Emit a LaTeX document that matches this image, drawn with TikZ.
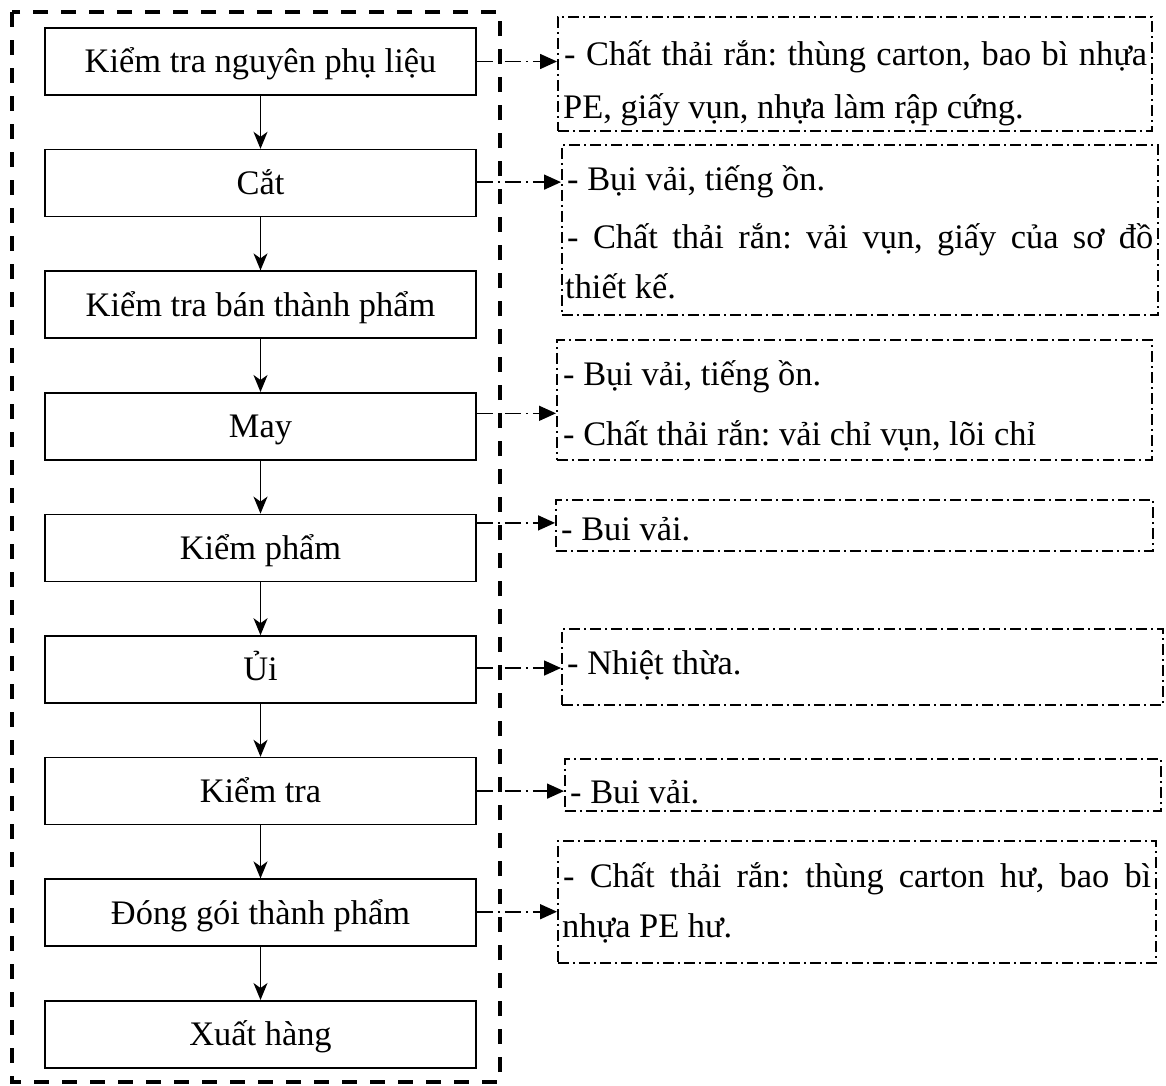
\documentclass[tikz,border=0pt]{standalone}
\usepackage{fontspec}
\setmainfont{Liberation Serif}
\usetikzlibrary{arrows.meta,calc}
\frenchspacing
\begin{document}
\begin{tikzpicture}[x=1pt,y=-1pt,
  font=\fontsize{34.4}{40}\selectfont\frenchspacing,
  stepbox/.style={draw, line width=1.6pt, minimum width=431pt, minimum height=67pt,
    text height=22.8pt, text depth=0pt, inner sep=0pt},
  wastebox/.style={draw, line width=1.5pt, dash pattern=on 11pt off 4pt on 2pt off 4pt,
    inner sep=0pt, anchor=north west},
  wline/.style={anchor=base west, inner sep=0pt},
  flow/.style={line width=1.6pt, -{Stealth[length=17pt,width=14pt,inset=5pt]}},
  conn/.style={line width=1.6pt, dash pattern=on 16pt off 5pt on 2pt off 5pt,
    -{Triangle[length=17pt,width=15pt]}},
  group/.style={draw, line width=3.5pt, dash pattern=on 15pt off 13pt}
]
\useasboundingbox (0,0) rectangle (1166,1085);

% outer dashed group
\draw[group] (12,12) rectangle (500,1082);

% process steps
\node[stepbox] (b1) at (260.5,61.5)  {Kiểm tra nguyên phụ liệu};
\node[stepbox] (b2) at (260.5,183.1) {Cắt};
\node[stepbox] (b3) at (260.5,304.7) {Kiểm tra bán thành phẩm};
\node[stepbox] (b4) at (260.5,426.3) {May};
\node[stepbox] (b5) at (260.5,547.9) {Kiểm phẩm};
\node[stepbox] (b6) at (260.5,669.5) {Ủi};
\node[stepbox] (b7) at (260.5,791.1) {Kiểm tra};
\node[stepbox] (b8) at (260.5,912.7) {Đóng gói thành phẩm};
\node[stepbox] (b9) at (260.5,1034.3) {Xuất hàng};

\foreach \a/\b in {b1/b2,b2/b3,b3/b4,b4/b5,b5/b6,b6/b7,b7/b8,b8/b9}
  \draw[flow] (\a) -- (\b);

% waste boxes
\node[wastebox, minimum width=594pt, minimum height=114pt] (t1) at (557,16) {};
\node[wastebox, minimum width=596pt, minimum height=170pt] (t2) at (561,144) {};
\node[wastebox, minimum width=595pt, minimum height=120pt] (t3) at (556,339) {};
\node[wastebox, minimum width=597pt, minimum height=51pt]  (t4) at (555,499) {};
\node[wastebox, minimum width=601pt, minimum height=76pt]  (t5) at (561,628) {};
\node[wastebox, minimum width=596pt, minimum height=52pt]  (t6) at (564,758) {};
\node[wastebox, minimum width=598pt, minimum height=122pt] (t7) at (557,840) {};

% waste texts
\node[wline] (t1a) at (564,65)  {\makebox[583pt][s]{- Chất thải rắn: thùng carton, bao bì nhựa}};
\node[wline] (t1b) at (563,118) {PE, giấy vụn, nhựa làm rập cứng.};
\node[wline] (t2a) at (567,190) {- Bụi vải, tiếng ồn.};
\node[wline] (t2b) at (567,248) {\makebox[586pt][s]{- Chất thải rắn: vải vụn, giấy của sơ đồ}};
\node[wline] (t2c) at (565,298) {thiết kế.};
\node[wline] (t3a) at (563,385) {- Bụi vải, tiếng ồn.};
\node[wline] (t3b) at (563,445) {- Chất thải rắn: vải chỉ vụn, lõi chỉ};
\node[wline] (t4a) at (561,540) {- Bui vải.};
\node[wline] (t5a) at (567,674) {- Nhiệt thừa.};
\node[wline] (t6a) at (570,803) {- Bui vải.};
\node[wline] (t7a) at (563,887) {\makebox[588pt][s]{- Chất thải rắn: thùng carton hư, bao bì}};
\node[wline] (t7b) at (562,937) {nhựa PE hư.};

% connectors to waste boxes
\draw[conn] (b1.east) coordinate (c1) -- (c1 -| t1.west);
\draw[conn] ($(b2.east)+(0,-1)$) coordinate (c2) -- (c2 -| t2.west);
\draw[conn] ($(b4.east)+(0,-13)$) coordinate (c4) -- (c4 -| t3.west);
\draw[conn] ($(b5.east)+(0,-25)$) coordinate (c5) -- (c5 -| t4.west);
\draw[conn] ($(b6.east)+(0,-1.5)$) coordinate (c6) -- (c6 -| t5.west);
\draw[conn] (b7.east) coordinate (c7) -- (c7 -| t6.west);
\draw[conn] ($(b8.east)+(0,-1)$) coordinate (c8) -- (c8 -| t7.west);
\end{tikzpicture}
\end{document}
